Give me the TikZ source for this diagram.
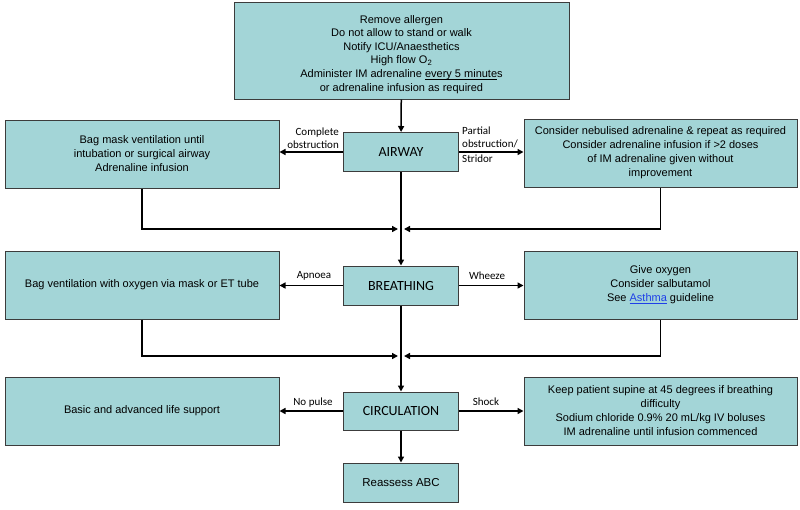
\documentclass[tikz,border=0pt]{standalone}
\usepackage{fontspec}
\setmainfont{Liberation Sans}
\newfontfamily\lblfont{Carlito}
\usetikzlibrary{arrows.meta}
\definecolor{boxfill}{HTML}{A3D5D7}
\definecolor{boxline}{HTML}{3C3C3C}
\definecolor{linkblue}{HTML}{1F3FE8}
\newcommand{\ul}[1]{\setbox0\hbox{#1}\rlap{\rule[-1.6pt]{\wd0}{0.6pt}}\box0}
\tikzset{
  box/.style={draw=boxline, fill=boxfill, line width=1pt, align=center, inner sep=0pt,
    font=\fontsize{11}{14}\selectfont},
  wide/.style={box, minimum width=274, minimum height=68},
  mid/.style={box, minimum width=115, minimum height=39},
  midlbl/.style={mid, font=\lblfont\fontsize{14}{16}\selectfont},
  arr/.style={line width=1.5pt, -{Triangle[length=6pt,width=6pt]}},
  lbl/.style={font=\lblfont\fontsize{11}{13}\selectfont, inner sep=0pt},
}
\begin{document}
\begin{tikzpicture}[x=1pt,y=-1pt]
\useasboundingbox (0,0) rectangle (800,509);
% boxes
\node[box, minimum width=335, minimum height=97] (top) at (401.5,50.5) {};
\node[inner sep=0pt, align=center, font=\fontsize{11}{13.6}\selectfont, anchor=north] (toptext) at (401.5,15)
  {Remove allergen\\Do not allow to stand or walk\\Notify ICU/Anaesthetics\\High flow O\textsubscript{2}\\
   Administer IM adrenaline \ul{every 5 minute}s\\or adrenaline infusion as required};
\node[wide] (bagmask) at (142,154) {Bag mask ventilation until\\intubation or surgical airway\\Adrenaline infusion};
\node[midlbl] (airway) at (401,152) {AIRWAY};
\node[wide, minimum width=273] (partial) at (660.5,153)
  {Consider nebulised adrenaline \& repeat as required\\Consider adrenaline infusion if >2 doses\\of IM adrenaline given without\\improvement};
\node[wide] (bagvent) at (142,285) {Bag ventilation with oxygen via mask or ET tube};
\node[midlbl] (breathing) at (401,285.5) {BREATHING};
\node[wide, minimum width=273] (oxygen) at (660.5,285)
  {Give oxygen\\Consider salbutamol\\See {\color{linkblue}\ul{Asthma}} guideline};
\node[wide] (bls) at (142,411) {Basic and advanced life support};
\node[midlbl, minimum height=38] (circ) at (401,411) {CIRCULATION};
\node[mid, font=\fontsize{11.5}{14}\selectfont] (reassess) at (401,482.5) {Reassess ABC};
\node[wide, minimum width=273] (shock) at (660.5,411)
  {Keep patient supine at 45 degrees if breathing\\difficulty\\Sodium chloride 0.9\% 20 mL/kg IV boluses\\IM adrenaline until infusion commenced};
% junctions
\coordinate (j1) at (401,229);
\coordinate (j2) at (401,356);
% main vertical
\draw[arr] (top) -- (airway);
\draw[arr] (airway) -- (breathing);
\draw[arr] (breathing) -- (circ);
\draw[arr] (circ) -- (reassess);
% side arrows
\draw[arr] (airway.west) -- (airway.west -| bagmask.east);
\draw[arr] (airway.east) -- (airway.east -| partial.west);
\draw[arr] (breathing.west) -- (breathing.west -| bagvent.east);
\draw[arr] (breathing.east) -- (breathing.east -| oxygen.west);
\draw[arr] (circ.west) -- (circ.west -| bls.east);
\draw[arr] (circ.east) -- (circ.east -| shock.west);
% return arrows
\draw[arr] (bagmask.south) |- ([xshift=-3pt]j1);
\draw[arr] (partial.south) |- ([xshift=3pt]j1);
\draw[arr] (bagvent.south) |- ([xshift=-3pt]j2);
\draw[arr] (oxygen.south) |- ([xshift=3pt]j2);
% labels
\node[lbl, align=right, anchor=south east] (l1) at (339,148.5) {Complete\\obstruction};
\node[lbl, align=left, anchor=south west] (l2) at (462,148.5) {Partial\\obstruction/};
\node[lbl, anchor=north west] (l3) at (462,155) {Stridor};
\node[lbl] (l4) at (314,276) {Apnoea};
\node[lbl] (l5) at (487,276) {Wheeze};
\node[lbl] (l6) at (313,403) {No pulse};
\node[lbl] (l7) at (486,402) {Shock};
\end{tikzpicture}
\end{document}
